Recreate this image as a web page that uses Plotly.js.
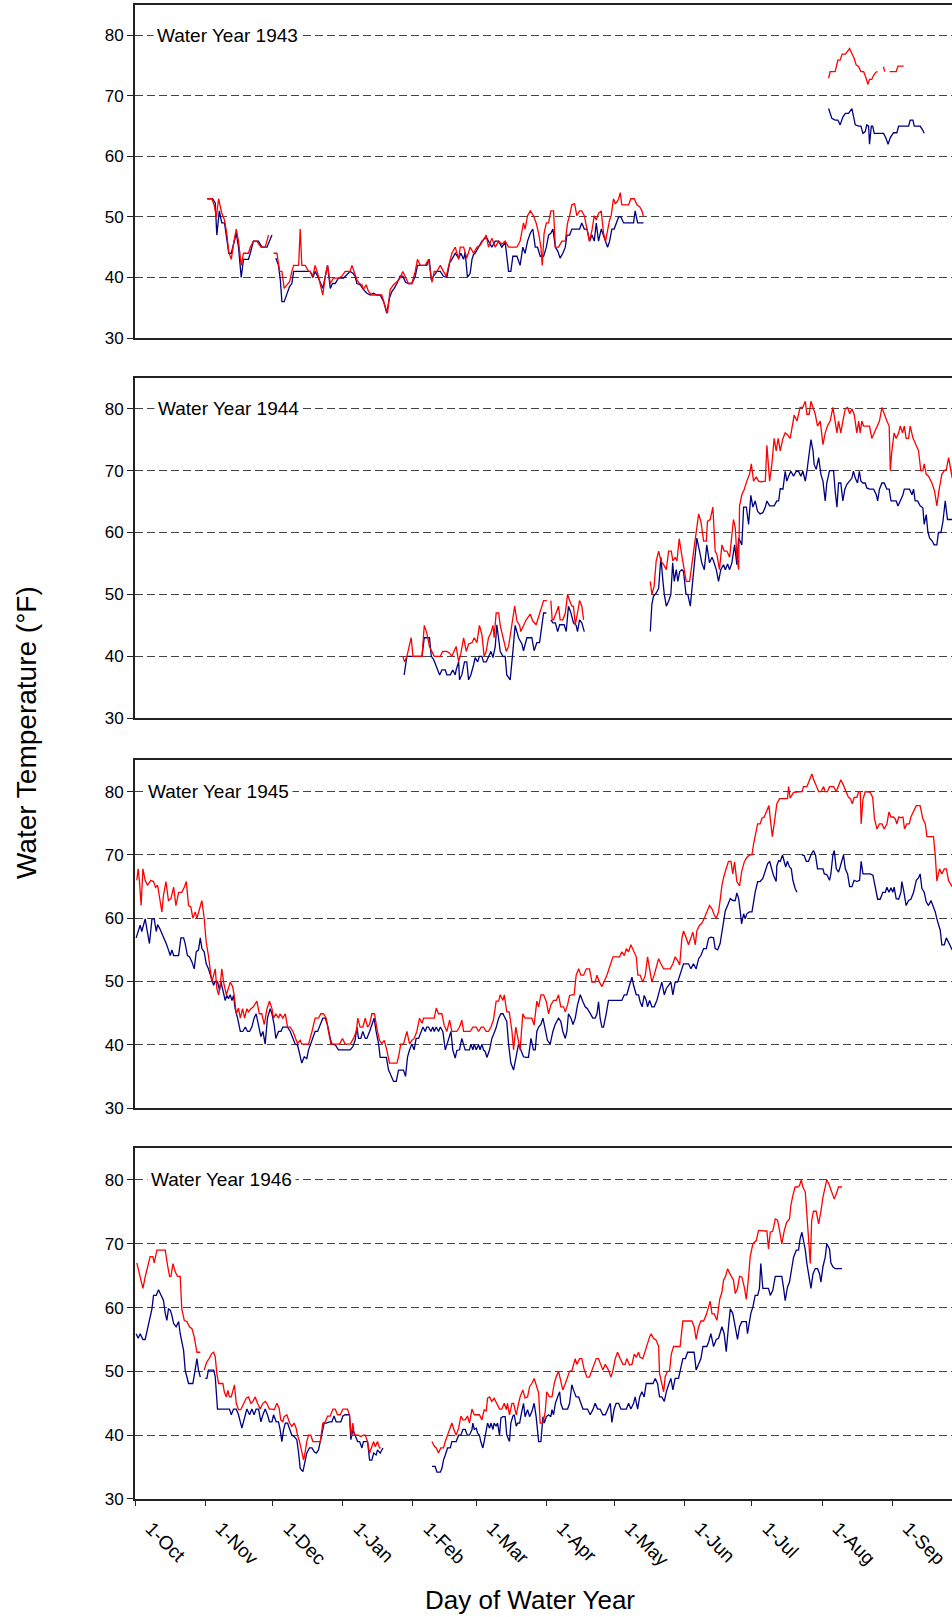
<!DOCTYPE html>
<html><head><meta charset="utf-8">
<script src="https://cdn.plot.ly/plotly-3.0.1.min.js"></script>
<style>html,body{margin:0;padding:0;background:#fff;overflow:hidden}</style>
</head><body><div id="chart" style="width:952px;height:1617px"></div>
<script>
// x = day of water year (0 = 1-Oct), y = water temperature (°F); null = gap in record
const monthTickDays = [0,31,61,92,123,151,182,212,243,273,304,335];
const monthTickLabels = ['1-Oct','1-Nov','1-Dec','1-Jan','1-Feb','1-Mar','1-Apr','1-May','1-Jun','1-Jul','1-Aug','1-Sep'];
const waterYears = ['Water Year 1943','Water Year 1944','Water Year 1945','Water Year 1946'];
const yTicks = [30,40,50,60,70,80];

const R43 = [[32,53],[34,53],[35,52],[36,50],[37,53],[38.4,50.6],[39.6,49.5],[40.6,47.3],[41.5,44.2],[42.6,43],[43.8,46],[44.8,48],[45.8,46],[47,42],[48,44],[50.2,44],[51,45],[52.4,46],[53.9,46],[55.7,45],[57.6,45],[59.1,47],[60,null],[61.3,44],[62.8,44],[64,41],[65,41],[66,38.2],[67.2,38.8],[68.4,39.3],[69.4,41],[70.2,42],[72.4,42],[73.1,48],[73.8,42],[75.3,42],[76.8,41],[77.5,41],[78.7,40.2],[79.7,42],[80.8,40.7],[82,38.8],[83.1,37.1],[84.2,40.2],[85.2,42],[86.4,39],[87.8,39.9],[90,39.9],[91.5,40.2],[93,41],[95.2,41],[96,42],[97,41],[98.2,39.6],[99.4,39],[100.4,38.8],[101.1,38],[102.3,38.8],[103.3,37.7],[104.8,37.1],[107,37.1],[109.2,37.1],[110.7,35.2],[111.7,34.1],[112.9,38],[114.4,38.8],[115.9,39.3],[117.3,39.9],[118.5,41],[119.6,40],[121,39],[122.5,39],[124,41],[125,43],[126.2,42],[128.4,42],[129.9,43],[131.4,39.2],[132.4,41],[133.6,41],[135.1,42],[136.5,41],[137.7,40.2],[138.7,41.8],[140.2,44],[141.7,45],[143.2,43],[143.9,45],[145.4,45],[146.8,43.2],[148.3,45],[149.8,44],[151.3,45],[152.7,45.3],[154.2,46.2],[155.4,47],[156.4,45],[157.9,46.5],[159.4,45],[160.9,46],[162.3,45.5],[163.8,46],[165.3,45],[166.8,45],[169,45],[170.4,46],[171.9,49],[172.6,48],[173.7,50.2],[174.9,51],[176.3,50.2],[177.5,49],[178.6,47.3],[179.6,45],[180.2,42],[181,47.3],[182,49],[183,49],[184,51],[185.2,51],[186,45],[187.4,45],[188.9,46],[190.4,46],[191.4,49],[192.3,50.2],[193.3,52],[194.5,52.2],[195.5,50.2],[196.7,51],[197.7,51],[198.8,50.2],[200,47.8],[201.1,46],[202.2,47.8],[203.2,50.2],[204.1,49.5],[205.1,50.6],[206.3,51],[207.3,47.3],[208.2,46],[209.1,47.8],[210,49.5],[210.7,50.2],[211.7,53],[212.5,52.2],[213.3,52.5],[214,53],[214.7,54],[215.4,52],[216.9,52],[218.4,52],[219.4,53],[220.9,53],[222.1,52],[223.3,51.7],[224.3,51],[225,50],[226,null],[306.9,72.9],[307.6,74],[309.8,74],[311,75.9],[312,75.9],[312.9,76.9],[314.3,76.9],[315,77.3],[316.2,77.8],[317.2,77],[318.2,76.2],[319.1,75.1],[320.2,74.8],[321.2,74],[322.4,74],[323.5,72.9],[324.3,71.9],[325,72.7],[326,72.7],[326.8,73.4],[327.8,73.9],[328.6,74],[329.5,null],[331.2,74.8],[331.7,74],[332.5,null],[333.9,74],[335.6,74],[336.8,74],[337.6,74.9],[340.1,74.9]];

const B43 = [[32,53],[34.3,53],[35.5,52.3],[36.2,47],[37.3,51],[38.4,49],[39.6,49],[40.6,46],[41.5,44],[42.6,44],[43.8,45.7],[44.8,47.3],[45.8,45],[47,40],[48,43],[50.2,43],[51,44],[52.4,46],[54.6,46],[56.2,45],[58.4,45],[60.6,47],[61.5,null],[62.3,43.2],[63.5,42],[64.3,39.6],[65,36],[66,36],[67.2,37.4],[68.4,38.5],[69.4,39],[70.2,41],[71.6,41],[77.5,41],[78.7,40],[79.7,41],[80.8,40.2],[82,39.3],[83.1,38.2],[84.2,40.2],[85.2,42],[86.4,38.2],[87.4,39],[88.6,39],[90,39.9],[92.3,39.9],[95.2,41],[96.4,40.7],[97.4,40.2],[98.2,39],[99.6,38.8],[101.1,38],[102.6,37.4],[104.1,37.1],[105.5,37.4],[107,37.1],[108.5,37.1],[110,36],[111.4,34.1],[112.6,36.6],[113.7,37.7],[114.7,38.2],[115.9,39],[117.3,40.2],[118.5,40.2],[119.7,39.2],[121,39],[122.5,39],[124,40.2],[125,42],[127,42],[129.1,42],[130.2,43],[131.1,39.6],[132.1,40.2],[133.6,41],[135.1,41],[136.5,40.2],[138,40],[139.2,42.4],[140.2,43],[141.7,44],[143.2,43.2],[144.2,44],[145.4,43],[146.1,44.2],[147.1,40],[148.3,40.7],[149.1,43],[149.8,43.8],[150.5,44],[152,45],[153.5,46],[155,46.5],[155.7,46.5],[157.9,45],[159.4,46],[160.9,46],[162.3,45],[163.8,45.8],[164.5,43.5],[165.3,41],[166.3,41],[167.2,43.5],[169,43.5],[170.4,42],[171.6,45],[172.6,44],[173.7,46],[174.9,47.3],[176,48],[177.1,45],[178.1,45],[179.3,43.5],[180.8,43.5],[182,45],[183,47],[184,47.3],[184.9,48],[186,45],[187,44.4],[188.1,43.2],[189.3,44],[190.4,45],[191.1,47],[192.3,47],[193.3,48],[195.5,48],[196.7,48],[197.7,49],[198.8,48],[200,48],[201.1,46],[202.2,47],[203.2,46],[204.1,49],[205.1,46],[206.3,48],[207.3,47],[208.2,46],[209.1,45],[210,46],[211,48],[212,48],[212.9,49],[214,50],[215,50],[216.2,49],[220.6,49],[221.3,51],[222.4,49],[225,49],[226,null],[306.9,67.9],[308.3,66.3],[309.8,66],[311,66],[312,65.2],[313.2,66.5],[314.3,67.1],[315.7,67.1],[317.2,67.9],[317.9,66.8],[318.7,65.2],[320.2,65],[321.2,65],[322.1,63.8],[323.1,64.1],[323.8,65.2],[324.6,65],[325,62],[325.8,65],[326.4,65],[327.1,63.8],[329,63.8],[331.2,63.8],[332.3,63],[333.2,62],[334.2,63.1],[335.6,63.9],[337.1,63.9],[337.9,65],[340.1,65],[342.3,65],[343,66],[344.2,66],[344.8,65],[347.4,65],[348.6,64.3],[349.2,63.8]];

const R44 = [[118.5,40],[119.3,39.1],[120.3,40],[122.2,43],[123,40],[124.7,40],[127,40],[128,45],[129.1,43.8],[130.3,41.6],[131.4,40.8],[132.4,40],[135.1,40],[136.1,40.8],[138,40.8],[139.2,40.5],[140.2,40],[141.2,40.8],[142.1,41.6],[143.2,39.1],[144.2,40.5],[145.4,43],[146.6,40.8],[147.6,42],[149.1,42.2],[150.1,43],[151.3,42.2],[152.4,45],[153.5,43.5],[154.5,40],[155.4,40.8],[156.4,43],[157.5,43.8],[158.4,45],[158.9,43],[159.8,47],[160.9,47],[161.6,45],[162.8,43],[164.3,40.8],[165.3,41.6],[166.8,45],[168,48.1],[169,45.7],[170.2,45],[170.7,44],[171.9,45],[173.1,45.9],[174.9,46.8],[176,45.7],[177.5,45.1],[179,47],[180.8,49],[182.2,49],[183,null],[184,49],[184.6,45.9],[185.2,45.9],[186.4,47],[187.4,48.1],[188.1,45.9],[189.3,45.9],[190.4,47],[191.4,50],[192.3,49],[193.3,48.1],[194,48.1],[194.8,45.1],[195.8,47],[196.7,49],[197.7,48.1],[198.5,45.9],[199,null],[228,52.1],[228.7,50],[229.7,51.3],[230.6,55.4],[231.7,57],[232.7,55.4],[233.9,54.8],[235.1,54],[236.1,57],[237.3,57],[238,55.4],[239,56],[239.8,55.4],[240.8,59],[242,56.2],[243,54.3],[243.9,52.1],[245.4,52.1],[246.4,54.8],[247.4,57.8],[248.3,60],[249.4,63],[250.4,61.8],[251.6,58.6],[252.8,58.6],[253.3,61.8],[254.5,62.1],[255.7,64.1],[256.7,57],[257.5,56.4],[258.6,54],[259.7,58],[260.7,57],[261.9,57],[263.1,56],[264.1,59.7],[264.8,62.1],[265.6,60.8],[266.3,56.2],[267.1,54],[267.5,64.3],[268.5,66.1],[269.6,67],[270.7,68.3],[271.9,69.4],[272.7,71.1],[273.7,68.3],[274.9,69],[275.9,68.3],[276.9,68.2],[277.8,68.3],[278.9,68.3],[279.6,74.1],[280.8,68.3],[281.8,71],[282.8,75.2],[283.7,73.2],[284.6,75.2],[285.5,73.2],[286.7,75.2],[287.7,76.1],[288.7,75.8],[289.9,75.2],[291,78],[291.7,79],[292.9,78],[294.3,80.2],[295.5,80.2],[296.6,81.2],[297.3,79.1],[298.3,79.1],[299.1,81.2],[300,80.2],[301,79.1],[302,77.2],[303.2,78],[304.4,74.2],[305.4,76.1],[306.4,77.2],[307.6,78],[308.8,80.2],[309.7,78],[310.6,76.1],[311.3,78],[312.3,76.1],[313.2,78],[314.3,80],[315.3,80.2],[316.2,79.2],[317.2,80],[318.2,79.1],[319.4,76.1],[320.2,78],[320.9,76.1],[321.6,78],[322.4,77.2],[323.8,77.2],[325,77.2],[326,75.2],[327.1,76.1],[328.3,77.2],[329.4,78],[330.5,80.2],[331.5,79.1],[332.7,78],[333.7,77.2],[334.2,70],[334.9,73.2],[335.9,76.1],[336.8,75.2],[337.9,76.1],[338.6,77.2],[339.6,76.1],[340.4,77.2],[341.2,75.2],[342.3,75.2],[343,77.2],[344.2,75.3],[345.7,74.2],[346.7,73.2],[347.7,70],[348.6,70],[349.2,71.1],[350.1,69.4],[351.1,69.1],[352.6,68],[353.8,66.7],[354.8,64.3],[355.7,66.7],[357,69.4],[358.1,70],[359,70.2],[360,72.1],[361,70],[361.6,68.8]];

const B44 = [[119.1,37],[120.3,40],[122,40],[124,40],[127,40],[128,43],[129.1,43],[130.3,43],[131.1,40],[132.1,39.5],[133.3,38.4],[134.8,37],[135.8,37.8],[137.3,37.8],[138,37],[139.5,37],[140.6,37.8],[141.7,37],[142.1,37.8],[143.2,39.1],[143.6,36.2],[144.6,37],[145.8,39.1],[146.8,39.1],[147.6,36.2],[148.6,37],[149.8,38.6],[150.5,39.8],[151.6,39.1],[152.4,40],[153.5,40],[154.2,39.1],[155.4,39.1],[156.4,40],[157.5,40.8],[158.4,39.8],[159.4,41.6],[160.1,45.1],[160.9,43],[161.6,40.8],[162.8,40],[163.8,40],[164.5,37],[166,36.2],[167.2,40.8],[168.2,45],[169.7,43],[171.2,42],[171.9,40.9],[173.4,43],[174.9,43],[175.6,43],[176.6,40.9],[177.8,42.2],[179,42.2],[179.6,44],[180.8,47],[182,47],[183,null],[184,45.9],[184.9,45.4],[186,45.4],[187,44],[187.9,45.1],[188.9,45.1],[189.9,45.1],[190.8,44],[191.8,48.1],[192.9,47],[194,45.4],[195.2,45],[195.8,44],[196.7,45.9],[197.7,45.4],[198.8,44],[199.5,null],[228,44],[228.7,48.4],[229.4,49.7],[230.6,50.2],[231.7,51],[232.7,56],[233.6,52.1],[234.2,50],[235.1,48.1],[236.1,48.9],[237.1,50],[237.9,55.1],[238.6,52.1],[239.5,54],[240.2,52.1],[241,53.7],[242,54],[242.7,53.7],[243.8,50],[244.6,50],[245.7,48.1],[246.8,52.1],[247.9,56.4],[248.6,59.1],[249.8,57],[250.8,55.1],[251.9,54],[253,58],[254.2,55.1],[255.3,56],[256,55.4],[257.2,54],[258.2,52.1],[259.2,54],[260.4,54.8],[261.2,54],[262.2,54.9],[263.1,54],[264.1,55.1],[265.3,58],[266.3,54.8],[267.1,59.1],[267.8,58.6],[268.5,58],[269.3,64.1],[270.5,64.1],[271.5,61.3],[272.5,66],[273.4,64.1],[274.4,65.1],[275.5,63.4],[276.6,63],[277.8,63.2],[278.9,64.1],[279.6,65.1],[280.8,64.3],[281.8,64.3],[282.8,64.3],[284,65.1],[284.8,65.1],[285.5,67.1],[286.7,67],[287.7,69.9],[288.4,68.3],[289.2,69.1],[290.2,69.9],[291.4,69.1],[292.6,69.9],[293.6,69.9],[294.6,69.1],[295.5,69.9],[296.6,68.3],[297.3,69.9],[298,72.1],[299.1,75],[300,73.2],[300.5,71],[301.4,70.2],[302.5,72.1],[303.5,69.4],[304.4,68.3],[305.4,65.1],[306.1,68],[307.3,70],[308.4,70],[309.1,70],[309.8,66.7],[310.6,64.1],[311.3,68],[312.3,68],[313.2,65.1],[314.1,67],[315,67.8],[316.2,68.3],[317.2,68.8],[317.9,69.9],[318.7,68.8],[319.7,68],[320.5,69.9],[321.2,68.3],[322.1,68],[323.1,68],[323.8,67.2],[325,67],[326.8,67],[328,66.1],[328.6,65.1],[329.4,67],[330.5,68],[331.5,68],[332.7,67],[333.7,67],[334.5,65.1],[335.6,65.1],[336.8,65.1],[337.6,64.3],[338.6,65.1],[339.8,66.1],[340.4,67],[341.8,67],[342.7,67],[343.8,66.1],[344.5,67],[345.2,65.1],[346.3,65.1],[347.4,64.3],[348.6,64],[349.2,61.3],[350.1,62.9],[350.8,60.2],[351.6,59.1],[352.6,58.7],[353.6,58],[354.8,58],[355.5,60],[356.6,60],[357.5,61.8],[358.5,65.1],[359.5,62.1],[361.6,62.1]];

const R45 = [[0.8,66],[1.4,67.8],[2,65.7],[2.7,62],[3.5,67.8],[4.5,66],[5.5,65.2],[6.3,65.7],[7,66],[8.2,65.8],[9.1,64.9],[10,65.2],[10.9,62.8],[11.9,61],[12.6,63.6],[13.7,65.8],[14.8,62.8],[15.9,63.1],[17.1,64.9],[18.1,62],[19.3,64.1],[20.7,64.1],[21.8,64.9],[22.7,65.8],[23.7,62],[24.7,61.8],[25.6,60],[26.6,61],[27.4,60],[28.3,61],[29.6,62.8],[30.6,60],[31.5,56.2],[32.5,54.1],[33.3,52],[34,49.9],[34.8,51],[35.5,52],[36.2,48.9],[37,47.9],[37.7,49.4],[38.4,52],[39.2,49.9],[40.4,47.9],[41.4,49],[42.1,49.9],[43.2,49.2],[43.9,47.8],[44.8,44.9],[45.8,45.8],[46.6,44.2],[47.6,45.7],[48.5,44.2],[49.5,45.7],[50.2,45.2],[51.3,45.7],[52.4,46],[53.9,46.9],[55,44.9],[56.1,44.9],[57.2,43.2],[58.4,45.7],[59.5,46.9],[60.6,45.7],[61.3,44.2],[62.3,44.9],[63.5,44.2],[64.2,44.9],[65.4,44.2],[66.5,44.9],[67.5,42.8],[68.7,42.8],[69.9,42.1],[70.9,41],[71.9,40.2],[73.1,40.7],[73.8,40.1],[75.3,40.1],[76.8,40.1],[78.3,42.1],[79.7,44.2],[81.2,44.2],[82.2,44.9],[83.4,44.9],[84.6,44.2],[85.6,42.1],[86.7,40.1],[88.1,40.1],[89.3,40.1],[90.5,40.1],[91.8,41],[93,40.1],[95.2,40.1],[96.7,41],[97.9,42.1],[98.6,44.2],[99.6,42.8],[100.8,42.8],[101.9,44.2],[102.9,42.8],[103.8,43.2],[104.8,44.9],[106,44.9],[107,42.6],[108.2,40.7],[109.2,40.2],[110.3,40.7],[111.4,39.2],[112.6,37.1],[114.4,37.1],[115.9,37.1],[116.6,38.1],[117.6,40.1],[118.8,40.1],[120.3,42.1],[121.5,40.1],[122.5,40.7],[123.5,41],[124.7,42.1],[125.9,44.2],[127,43.4],[127.7,44.2],[129.1,44.2],[130.6,44.2],[132.4,44.2],[133.3,45.8],[134.3,44.9],[135.8,44.9],[136.8,43.1],[138,42.1],[139.2,43.9],[140.2,42.1],[141.2,42.1],[142.4,42.1],[143.6,42.8],[144.6,43.9],[145.4,42.1],[146.8,42.1],[148.3,42.1],[149.5,42.8],[151,42.8],[152,42.1],[153.2,42.8],[154.2,42.8],[155.4,42.1],[156.4,42.1],[157.5,42.8],[158.6,43.9],[159.8,46.9],[160.9,46.9],[161.6,47.9],[162.8,47],[163.4,47.9],[164.5,45.2],[165.6,45.2],[166.8,42.1],[167.5,39.2],[168.5,42.8],[169.3,41.5],[170.4,39.2],[171.6,44.9],[172.6,44.2],[174.1,44.2],[175.6,44.2],[176.6,43.1],[177.8,46.9],[178.6,46],[179.6,47.9],[180.8,47.9],[182,46.8],[183,44.9],[184,46.3],[185.2,47],[186.4,47],[187.4,47.9],[188.4,46],[189.6,46],[190.4,45.2],[191.4,46.3],[192.3,47.8],[193.3,47.9],[194.3,47.9],[195.2,51],[196.3,52],[197.3,51],[198.5,51],[199.7,52],[201.1,52],[202.2,49.9],[203.6,49.9],[204.4,51],[205.5,49.9],[206.6,49.2],[207.6,49.9],[208.8,51],[210.3,52.6],[211.5,53.9],[212.9,53.9],[214.4,53.9],[215.4,54.7],[216.5,54.1],[217.4,55.2],[218.4,54.7],[219.4,55.8],[220.6,54.7],[221.8,53.9],[222.5,51],[223.5,51],[224.7,49.9],[225.8,51],[226.8,53.9],[227.7,52],[228.7,49.9],[229.7,51],[230.6,52],[231.7,53.6],[232.7,52.8],[233.9,52],[235.3,52],[236.8,52],[238,52.8],[239,53.9],[240.1,53.3],[241,52.6],[242,56.9],[242.7,58],[243.8,57],[244.9,55.8],[246,56.9],[246.8,57.8],[247.9,55.8],[248.6,58],[249.8,58.9],[250.8,59.2],[251.9,60],[253,61],[254.2,62],[255.3,61.5],[256.3,60.5],[257.2,60],[258.2,61],[259,63.1],[259.7,65.2],[260.7,66.8],[261.9,68.3],[262.6,69],[263.7,69],[264.5,67],[265.3,68.9],[266.3,65.8],[267.5,65.1],[268.5,67.5],[269.6,68.9],[270.7,69.6],[271.9,70],[273,70],[273.7,71.7],[274.9,73.9],[275.5,74.9],[276.6,74.9],[277.4,75.8],[278.4,76],[279.6,77],[280.5,77.8],[281.1,75.7],[282,72.9],[283,75.4],[284,78.1],[285.2,78.9],[286.2,78.9],[287.7,78.9],[288.7,78.9],[289.2,80.8],[289.9,79],[291.4,79.9],[292.6,79.9],[293.6,80],[295.1,80],[295.8,80.8],[297.3,80.8],[298.5,81.9],[299.5,82.8],[300.2,82],[301.4,80.9],[302.5,80],[303.5,80],[304.7,80.8],[305.4,80],[306.4,80],[307.3,80.8],[309.1,80.8],[310.3,80],[311.3,80.9],[312.3,81.9],[313.5,81],[314.7,80],[315.7,79.1],[316.5,78.9],[317.4,78.1],[318.2,79.1],[319.4,79.1],[320.2,80],[320.9,80],[321.3,74.9],[322.1,78.8],[323.1,80],[324.6,80],[325.3,79.9],[326.4,79.1],[327.2,75.7],[328.3,74.1],[329.4,74.9],[330.5,74.9],[331.5,74.1],[332.7,74.9],[333.6,76.8],[334.5,76],[335.6,76],[336.4,75.7],[337.1,74.9],[337.9,76],[338.9,75.9],[339.8,76],[340.5,74.1],[341.5,74.9],[342.6,74.9],[343.3,76],[344.5,76.8],[345.7,77.8],[347.4,77.8],[348.6,75.7],[349.7,74.9],[350.4,72.9],[351.9,72.9],[353.3,72.9],[354.1,69.9],[354.8,65.9],[356,67.8],[357,67],[358.1,67.8],[359,67.8],[360,65.9],[361,65.2],[361.6,65]];

const B45 = [[0.5,56.9],[1.4,57.8],[2.3,58.9],[3,57.9],[3.8,59.1],[4.5,59.9],[5.5,57.8],[6.4,56],[7.5,59.9],[8.5,59.9],[9.4,57.9],[10,59],[10.9,58.4],[11.9,57.6],[12.9,56.9],[13.8,56],[14.8,55],[15.6,54.1],[16.3,55],[17.1,54.1],[19.3,54.1],[20.3,56.9],[21.5,56.9],[22.2,56],[23.2,54.1],[24.1,53.9],[25.2,53.1],[26.2,52],[27.1,54.7],[28.1,55],[28.9,56.9],[29.6,55.2],[30.6,54.7],[31.5,52.8],[32.5,52],[33.3,51],[34,50],[34.8,49.4],[35.5,50],[36.5,50],[37.4,48.6],[38,50],[38.9,48.6],[39.9,47],[40.6,47.8],[41.4,47.3],[42.1,47.9],[42.9,47],[43.6,47.8],[44.3,45.7],[45.4,44.2],[46.6,42.1],[47.7,42.1],[48.8,42.8],[49.8,42.1],[50.7,42.1],[51.7,42.8],[52.7,44.2],[53.6,44.9],[54.7,42.8],[55.7,41.3],[56.6,42.1],[57.6,40.1],[58.6,44.2],[59.8,45.7],[60.6,44.9],[61.6,43.1],[62.3,41],[63.5,42.1],[64.6,42.1],[65.4,42.8],[67.5,42.8],[68.7,42.1],[69.9,41],[70.9,40.1],[71.9,40],[73.1,38.1],[73.8,37.1],[74.9,38.1],[76,37.8],[76.8,39.2],[77.8,40.1],[78.7,41],[79.7,42.1],[80.8,42.1],[82,43.1],[83.1,44.2],[84.2,44.2],[85.2,43.1],[86.4,41],[87.1,40.1],[88.6,40],[90,39.2],[92.3,39.2],[95.2,39.2],[96.4,39.7],[97.4,40.7],[98.2,42.8],[98.9,41],[99.9,41],[100.8,42.1],[101.9,41],[102.6,41],[103.8,42.1],[104.8,43.1],[105.8,44.2],[106.7,42.1],[107.8,40.1],[108.5,38],[110,38],[111.2,38],[112.2,36],[113.2,35.2],[114.4,34.2],[115.6,34.2],[116.6,36],[117.6,36],[118.8,36],[119.7,35],[120.6,38.1],[121.5,39.2],[122.5,40.1],[123.5,39.2],[124.4,41],[125.5,41],[126.5,42.1],[127.4,42.8],[128.4,42.1],[129.1,42.8],[129.9,42.8],[130.9,42.1],[131.8,42.8],[132.4,42.1],[133.3,42.8],[134.3,42.1],[135.1,42.8],[136.2,42.1],[137.3,39.2],[138,40.1],[138.7,41],[139.8,42.1],[140.6,39.2],[141.7,37.9],[142.4,39.1],[143.6,39.2],[144.6,41],[145.4,40.1],[146.1,39.2],[147.1,39.2],[148,39.2],[148.6,40.1],[149.5,39.2],[150.1,40.1],[151,39.2],[152,40],[152.7,39.2],[153.5,40.1],[154.2,39.2],[155,38.9],[155.7,38],[156.9,39.2],[157.9,41],[158.6,41.6],[159.7,42.6],[160.9,44.2],[161.9,44.9],[162.8,44.9],[163.8,44.2],[164.5,43.7],[165.3,40.1],[166.3,37.1],[167.5,36],[168.7,38.1],[169.7,40.1],[170.7,39.2],[171.9,38.1],[173.1,38],[174.1,38],[175.2,41],[176.3,39.2],[177.1,39.2],[177.8,42.1],[178.6,42.8],[179.6,43.2],[180.5,44.2],[181.5,42.1],[182.5,40.7],[183.7,40.1],[184.9,42.1],[185.9,43.2],[187.4,44.2],[188.4,43.7],[189.3,42.1],[190.4,41],[191.1,42.1],[191.8,44.9],[192.9,44.2],[193.8,43.2],[194.8,44.2],[195.8,46.3],[197,47.9],[198.2,46.8],[199.2,46],[200.2,45.7],[201.4,44.9],[202.6,44.2],[203.6,44.2],[204.4,44.9],[205.1,46.8],[205.8,44.2],[206.6,42.8],[207.3,42.8],[208.5,44.9],[209.5,47],[211,47],[212.5,47],[214,47],[215.4,47],[216.5,47.9],[217.6,47.9],[218.8,49.4],[219.9,50.7],[220.6,49.4],[221.8,47.9],[222.8,47.9],[223.5,46.8],[224.4,46],[225.3,47.8],[226.2,47],[226.8,46],[227.7,47],[228.7,46],[229.7,46],[230.9,47],[232.1,48.6],[233.1,49.9],[234.2,47.9],[235.1,48.9],[236.1,49.4],[237.1,49.9],[238,47.9],[239,49.9],[240.1,49.9],[241,51],[242,52],[242.7,52.8],[243.8,52.8],[244.9,52.8],[246,52],[247.1,52.8],[248.3,52],[249.4,53.6],[250.4,54.1],[251.6,55.2],[252.8,55.2],[253.8,56.8],[254.8,57],[256,56.9],[256.7,55.2],[257.8,55],[258.9,56],[259.7,57.8],[260.4,59.9],[261.2,61.2],[262.2,62],[263.4,63.1],[264.5,62.8],[265.6,62.8],[266.3,64],[267.1,63.1],[267.8,61.1],[268.4,59.1],[269.3,60.7],[270,59.9],[270.7,60.7],[271.9,61],[273,61],[273.7,62.6],[274.4,64.1],[275.5,65.8],[276.6,65.8],[277.8,66.3],[278.9,67.5],[279.9,68.6],[280.8,69],[281.8,67.5],[282.5,66.8],[283.7,65.8],[284,68.3],[284.8,69.1],[285.5,69],[286.5,70],[287.3,68.9],[287.9,68.1],[288.7,69],[289.6,68.1],[290.4,67.8],[291.1,66],[292.1,64.7],[292.9,64.1],[294,null],[295.1,70],[296.1,69.9],[297,69],[298,69],[299.1,70],[300.2,70.7],[301.1,70],[302,67.8],[303.2,67.8],[304.4,67.8],[305,67],[306.1,66.9],[307.3,66],[307.9,67],[308.8,70],[309.4,70.7],[310.3,67.8],[311.3,67.3],[312,68.1],[312.8,69.4],[313.5,70],[314.3,67.8],[315.3,67],[316.2,65],[317.2,65],[318.2,66],[319.4,65.8],[320.6,66],[321.3,69],[322.1,67],[323.1,67],[325.3,67],[326.5,66.8],[327.5,64.7],[328.6,63],[329.7,63],[330.9,64.1],[332,64.1],[332.7,64.9],[333.6,64.1],[334.5,64.8],[335.3,64.1],[335.9,64.9],[336.8,63.1],[337.9,63],[338.9,64.1],[339.3,65.8],[340.1,64.4],[341.2,62],[342.3,62.8],[343.3,63],[344.5,64.1],[345.7,66],[346.7,66.4],[347.4,67],[348.2,64.7],[349.2,64.1],[350.1,62.6],[351.1,62],[352.2,62.8],[353,62],[354.1,61],[354.8,59.9],[355.5,58.9],[356.3,58.1],[357,55.8],[358.1,55.8],[359,56.9],[360,56.2],[361,55.5],[361.6,55]];

const R46 = [[0.8,67],[2,65.3],[3.5,63],[4.5,64.8],[5.5,66.1],[6.7,68],[7.9,68],[8.5,67],[9.7,69],[11.2,69],[12.6,69],[13.4,69],[14.4,66.6],[15.3,64.9],[15.9,64.9],[16.8,66.9],[17.8,65.6],[18.8,64.9],[20,64.9],[20.7,59.8],[21.8,58],[23,57.8],[24.1,57],[25.2,56.7],[26.2,55.4],[27.4,53],[28.9,53],[29.8,null],[30.6,50.2],[31.8,51.5],[32.8,52],[34,52.8],[34.8,53],[35.5,52.3],[36.2,49.7],[37,48.1],[38,48.1],[38.9,48.1],[39.5,46.8],[40.4,46],[41.1,47],[41.8,46],[42.6,46],[43.3,47],[44,47.9],[44.8,45],[45.8,44],[46.8,44],[48,45],[49.2,45.8],[50.2,46],[51.3,45],[52.2,45.3],[53.2,46],[54.2,45],[55.4,44.1],[56.6,45],[57.6,45.3],[58.3,45],[59.5,44.1],[60.6,44.1],[61.6,44],[62.8,45],[63.8,44.2],[64.5,42.4],[65.4,42.1],[66,42.9],[67.2,43.2],[68.4,41.9],[69.4,41.4],[70.4,41.9],[71.3,41.1],[71.9,40],[72.8,39],[73.8,37.4],[74.6,36.1],[75.3,37.4],[76,39],[76.8,40],[77.8,40],[78.7,39],[79.7,39],[80.8,39],[82,39],[83.1,41.9],[84.2,42.1],[85.2,43],[86.4,43],[87.6,44.1],[88.6,44.1],[89.6,43.2],[90.8,43.2],[92,44.1],[93,44.1],[94,44.1],[94.9,43.2],[95.7,39.8],[96.4,41.9],[97,40],[97.9,40],[98.9,40],[99.9,39.8],[101.1,40],[101.9,40],[102.9,39],[103.8,37.2],[104.8,38.2],[105.6,39],[106.3,38.2],[107.3,39],[108.2,38],[108.8,38],[110,null],[131.4,39],[132.4,38.3],[133.3,38],[134.3,37.2],[135.3,38],[136.5,38],[137.3,39],[138.3,40],[139.2,40.8],[140.2,41.9],[141.2,40.8],[142.1,40],[143.2,41.1],[144.2,43],[145.1,42.4],[146.1,42.4],[147.1,43],[148,41.9],[149.1,44.1],[150.1,43.2],[151.3,43.2],[152.4,43.2],[153.5,42.4],[154.5,44],[155.4,43.8],[156,45.8],[156.9,46],[157.9,45.3],[158.9,45.8],[160.1,45],[161.3,44.1],[162.3,44.1],[163.4,45],[164.3,44],[164.8,45],[165.7,43.2],[166.8,45],[167.5,45],[168.7,43.2],[169.7,45],[170.4,46],[171.6,47.1],[172.6,45.8],[173.7,46],[174.6,47.6],[175.6,48.1],[176.6,48.9],[177.5,47.9],[178.6,46.6],[179.3,41.9],[180.5,41.9],[181.5,43.6],[182.2,46.8],[183.4,46],[184.5,46],[185.5,48.1],[186.4,49.2],[187.4,50],[188.4,48.6],[189.3,47.1],[190.4,48.1],[191.4,49.2],[192.3,50],[193.3,50.1],[194,51.1],[194.8,52],[195.5,51.1],[196.7,52],[197.7,52],[198.8,50.2],[200,49.1],[201.1,49.1],[202.2,50.2],[203.2,51.1],[204.1,52],[205.1,52],[206.1,51.1],[207,50.2],[208.1,51.1],[209.5,50.2],[210.6,49.1],[211.5,50.2],[212.5,52],[213.5,53],[214.7,52],[215.9,51.1],[216.9,51.1],[217.6,52],[218.8,51],[219.9,51.1],[220.9,52.7],[221.8,52.2],[222.8,53],[223.5,52.2],[224.7,52],[225.3,52.7],[226.5,54.1],[227.7,55.4],[228.4,55.9],[229.4,55.2],[230.6,54.9],[231.7,53.9],[232.1,49.7],[233.1,47.9],[233.9,46.8],[234.6,49.2],[235.6,50],[236.5,50],[237.3,52.7],[238.3,53.9],[239.8,53.9],[241.2,53.9],[242.4,57.9],[244.2,57.9],[246.4,57.9],[247.4,57],[248.3,55],[249.4,57],[250.4,57.9],[251.6,57.9],[252.8,58.9],[253.8,60.1],[254.5,61],[255.3,59],[256.3,59],[257.5,58],[258.7,61.3],[259.7,62.4],[260.4,64.3],[261.3,64.9],[262.2,66.1],[263.1,65.4],[264.1,64.8],[264.8,64.3],[265.6,62.2],[266.6,63],[267.5,64.9],[268.5,64.8],[269.6,63.2],[270.5,61.3],[271.5,64.9],[272.2,68],[273.4,70],[274.9,70.5],[275.9,72.1],[277.4,72],[278.9,72],[279.6,72],[280.3,69.2],[281.1,71.8],[282.2,72],[283.3,73.9],[284.3,73.7],[285.2,72.1],[286.2,70],[287.3,72.1],[288.4,73.4],[289.6,73.9],[290.2,76],[291.1,77.6],[292.1,78.9],[293.2,78.9],[294,79.1],[294.8,80],[295.5,78.9],[296.6,78.1],[297.3,73.9],[298,70.5],[298.8,66.9],[299.4,73.6],[300.2,75.1],[301.4,75.1],[302.5,73.1],[303.5,75.1],[304.4,77.3],[305.4,78.9],[306.1,80],[307,79.4],[308.4,77.8],[309.4,77],[310.6,78.1],[311.3,78.9],[312.8,78.9]];

const B46 = [[0.5,55.9],[1.4,55.2],[2.3,55.9],[3.5,55],[4.5,55],[5.5,56.5],[6.4,57.8],[7.5,59.8],[8.2,61.9],[9.4,61.9],[10.4,62.8],[11.2,62.2],[11.9,61.8],[12.6,61.1],[13.4,59.1],[14.1,58],[14.8,59.8],[15.6,59.6],[16.3,58.8],[17.1,57.5],[18.2,57],[19.3,57.8],[20,55.9],[20.7,54.6],[21.5,53.3],[22.2,50.2],[23,49.2],[23.7,48.1],[24.7,48.1],[25.6,48.1],[26.6,50.2],[27.4,52],[28.1,50.2],[28.9,49.1],[30,null],[31.1,48.9],[31.8,48.9],[32.5,50.2],[34,50.2],[34.8,50.2],[35.5,49.2],[36.5,44.1],[37.7,44.1],[39.2,44.1],[40.7,44.1],[41.8,44.1],[42.6,43.2],[43.6,44.1],[44.8,44.1],[45.8,43.2],[46.6,42.1],[47.3,41.1],[48,42.1],[48.8,43.2],[49.5,44.1],[50.7,43.2],[51.7,44.1],[52.7,43.2],[53.6,44.1],[54.7,44.1],[55.7,42.1],[56.6,43.2],[57.6,44.1],[58.6,43.2],[59.5,42.1],[60.6,42.1],[61.3,43.2],[62.5,42.1],[63.5,42.1],[64.2,40.9],[65,39],[65.7,40.8],[66.5,41.9],[67.5,41.9],[68.4,41.1],[69.4,40],[70.4,39.8],[71.6,39.3],[72.4,37.2],[73.1,34.8],[74.3,34.3],[75.3,36.1],[76,37.2],[77.2,38],[78.3,38],[79.3,37.4],[80.2,37.2],[81.2,37.7],[82,39],[82.7,40],[83.7,41.9],[84.6,41.9],[86.1,42.1],[87.1,42.1],[88.1,43],[89,42.1],[90,42.1],[91.1,42.1],[92,43],[93,43.2],[94,43.2],[94.9,43.2],[95.5,39.3],[96.4,40.8],[97.4,40],[98.5,39],[99.4,39],[100.4,38],[101.1,39],[101.9,39],[102.9,39],[103.8,36.1],[104.8,36.1],[105.6,37.2],[106.7,36.9],[107.3,37.7],[108.5,37.2],[109.7,38],[110.5,null],[131.4,35.1],[132.8,35.1],[133.6,34.2],[135.1,34.2],[135.8,34.8],[136.5,36.1],[137.3,36.9],[138.3,38],[139.5,38],[140.2,39],[141.2,39],[142.1,39],[143.2,40],[144.2,40],[145.1,40.9],[146.1,40.9],[147.1,40],[148,40],[149.1,40.9],[149.5,41.9],[150.1,40.9],[151,41.1],[151.6,40.3],[152.4,40],[153,39],[153.9,38],[154.5,39],[155.4,41.1],[156,41.9],[156.9,41.1],[157.5,41.9],[158.4,40.9],[158.9,41.9],[159.8,41.4],[160.4,41.9],[161.3,40],[161.9,42.7],[162.8,42.9],[163.8,42.9],[164.5,40],[165.7,39],[166.3,41.9],[167.2,43],[167.8,43.2],[168.7,41.4],[169.3,41.9],[170.2,41.9],[170.7,42.9],[171.9,45],[172.6,42.9],[173.7,44],[174.6,42.9],[175.6,43.7],[176.6,45],[177.5,42.9],[178.6,39],[179.6,39],[180.5,42.9],[181.1,41.9],[182,42.9],[183,43.2],[184,42.9],[184.5,44],[185.2,43.2],[186,45],[187,46],[187.9,46.8],[188.4,45],[189.3,44.1],[190.4,44.1],[191.4,44.1],[192.3,45],[193.3,47.9],[194,47.1],[195.2,46],[196.3,46],[197.3,45],[198.2,44.1],[199.2,44.1],[200.2,44.1],[201.4,43.2],[202.6,44],[203.6,45],[204.7,44.1],[205.8,44.1],[207,43.2],[208.1,43.2],[209.1,44.1],[210.3,45],[211,42],[212,44.1],[212.9,45],[214,45],[215,44.1],[216.2,44.1],[217.4,44.1],[218.4,45],[219.4,44.1],[220.6,45],[221.3,46],[222.4,44.1],[223.3,46],[224.3,46.8],[225.3,46],[226.2,48.1],[227.7,48.1],[229.2,48.1],[230.2,48.9],[231.2,48.1],[232.1,46],[233.1,46],[234.2,45.3],[235.1,46.8],[236.1,47.9],[237.1,48.9],[238,47.1],[239,48.9],[240.5,48.9],[241.2,50.2],[242.4,52],[243.5,52],[244.5,53],[246.4,53],[247.4,53],[248.3,50.2],[249.4,51.2],[250.4,52],[251.3,53.9],[252.3,53.9],[253,53.9],[253.8,54.6],[254.8,55.9],[256,53.9],[257.2,55],[258.2,55.2],[258.9,55.9],[259.7,57],[260.7,55.9],[261.6,53.1],[262.6,57],[263.4,59.8],[264.5,59.1],[265.6,57],[266.6,55],[267.5,57],[268.5,57.8],[269.6,57.8],[270.5,57.8],[271,55.9],[271.9,57.8],[272.5,59.1],[273.4,60.1],[274.4,61.9],[275.5,61.9],[276.3,63],[276.9,66.9],[277.8,63],[278.9,63],[280.3,63],[281.1,61.9],[282.2,62.7],[283.3,64.9],[284.3,64.9],[285.2,64.9],[286.2,64.9],[287,63],[287.7,61.1],[288.7,63.2],[289.6,64],[290.7,66.4],[291.4,67.9],[292.6,69],[293.6,69],[294.3,70.8],[295.1,71.8],[295.8,70.5],[296.6,69],[297.3,66.9],[298,65.3],[299.1,63],[300,65.3],[301,66.1],[302,66.1],[302.9,65.3],[303.5,64],[304.4,66.4],[305.4,67.9],[306.1,70],[307.3,69.2],[307.9,67],[308.8,66.4],[309.8,66.1],[311.3,66.1],[312.8,66.1]];

const panelSeries = [[B43,R43],[B44,R44],[B45,R45],[B46,R46]];
const seriesColors = ['#000080','#ff0000'];

const FONT = 'Liberation Sans, Arial, sans-serif';
// panel vertical domains (top panel first)
const domains = [[0.7771,1.0],[0.5226,0.7505],[0.2617,0.4946],[0.0,0.2349]];
const labelX = [0.022,0.023,0.011,0.0147];

const traces = [];
panelSeries.forEach((pair,i)=>{
  pair.forEach((ser,k)=>{
    traces.push({
      type:'scatter', mode:'lines',
      x: ser.map(p=>p[0]), y: ser.map(p=>p[1]),
      xaxis: 'x'+(i+1), yaxis: 'y'+(i+1),
      line:{color:seriesColors[k], width:1.3},
      connectgaps:false, hoverinfo:'skip', showlegend:false
    });
  });
});

const layout = {
  width:952, height:1617,
  margin:{l:135, r:0, t:5, b:118},
  paper_bgcolor:'#fff', plot_bgcolor:'#fff',
  showlegend:false,
  font:{family:FONT, color:'#000'},
  annotations:[]
};
for(let i=0;i<4;i++){
  const n = i+1;
  const last = (i===3);
  layout['xaxis'+n] = {
    anchor:'y'+n, domain:[0,1], range:[0,361.5],
    showline:true, mirror:true, linecolor:'#222', linewidth:2,
    showgrid:false, zeroline:false,
    tickmode:'array', tickvals:monthTickDays, ticktext:monthTickLabels,
    ticks: last ? 'outside' : '', ticklen:5, tickcolor:'#222', tickwidth:1,
    showticklabels:last, tickangle:45,
    ticklabelshift:16, ticklabelstandoff:4,
    tickfont:{family:FONT, size:19, color:'#000'}
  };
  layout['yaxis'+n] = {
    anchor:'x'+n, domain:domains[i], range:[30,85],
    tickmode:'array', tickvals:yTicks,
    showline:true, mirror:false, linecolor:'#222', linewidth:2,
    ticks:'outside', ticklen:6, tickcolor:'#222', tickwidth:1,
    showgrid:true, gridcolor:'#444', gridwidth:1, griddash:'8px,4px',
    zeroline:false,
    tickfont:{family:FONT, size:17, color:'#000'}
  };
  layout.annotations.push({
    xref:'paper', yref:'y'+n, x:labelX[i], y:80,
    xanchor:'left', yanchor:'middle', showarrow:false,
    text:waterYears[i], bgcolor:'#fff', borderpad:3,
    font:{family:FONT, size:19, color:'#000'}
  });
}
layout.annotations.push({
  xref:'paper', yref:'paper', x:-0.1334, y:0.5127, xanchor:'center', yanchor:'middle',
  textangle:-90, showarrow:false, text:'Water Temperature (°F)',
  font:{family:FONT, size:28, color:'#000'}
});
layout.annotations.push({
  xref:'paper', yref:'paper', x:0.483, y:-0.0676, xanchor:'center', yanchor:'middle',
  showarrow:false, text:'Day of Water Year',
  font:{family:FONT, size:26, color:'#000'}
});

Plotly.newPlot('chart', traces, layout, {staticPlot:true, displayModeBar:false});
</script>
</body></html>
